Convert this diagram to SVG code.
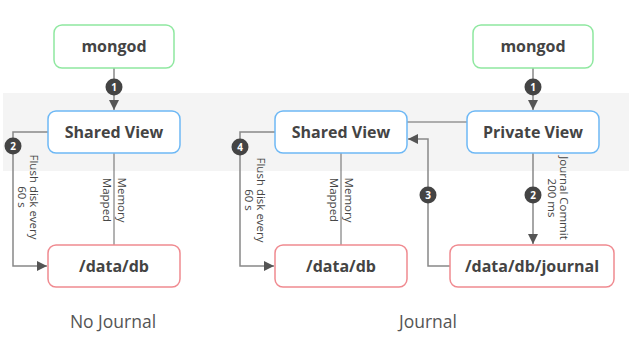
<svg xmlns="http://www.w3.org/2000/svg" width="629" height="344" viewBox="0 0 629 344">
<defs>
<style>
.box{fill:#fff;stroke-width:1.5}
.g{stroke:#8fe8a0}
.b{stroke:#6db8f5}
.r{stroke:#f08a90}
.lbl{font-family:"Open Sans","Liberation Sans",sans-serif;font-weight:bold;font-size:16px;fill:#444;text-anchor:middle}
.sm{font-family:"Open Sans","Liberation Sans",sans-serif;font-size:11.5px;fill:#444;text-anchor:middle}
.cap{font-family:"Open Sans","Liberation Sans",sans-serif;font-size:17.5px;fill:#555;text-anchor:middle}
.con{fill:none;stroke:#888;stroke-width:1.5}
.thin{fill:none;stroke:#666;stroke-width:1}
.bd circle{fill:#444}
.bd text{font-family:"Open Sans","Liberation Sans",sans-serif;font-weight:bold;font-size:10px;fill:#fff;text-anchor:middle}
</style>
<marker id="ah" viewBox="0 0 10 10" refX="10" refY="5" markerWidth="10" markerHeight="10" markerUnits="userSpaceOnUse" orient="auto">
<path d="M0,0 L10,5 L0,10 z" fill="#555"/>
</marker>
</defs>
<rect x="3" y="93" width="626" height="78" fill="#f4f4f4"/>
<g id="connectors">
<line class="con" x1="114" y1="68" x2="114" y2="110" marker-end="url(#ah)"/>
<polyline class="con" points="48,132 13,132 13,266 47,266" marker-end="url(#ah)"/>
<line class="thin" x1="114" y1="153" x2="114" y2="245"/>
<line class="con" x1="533" y1="68" x2="533" y2="110" marker-end="url(#ah)"/>
<line class="thin" x1="467" y1="122" x2="407" y2="122"/>
<polyline class="con" points="275,132 240,132 240,266 274,266" marker-end="url(#ah)"/>
<line class="thin" x1="341" y1="153" x2="341" y2="245"/>
<polyline class="con" points="450,266 428,266 428,139 408,139" marker-end="url(#ah)"/>
<line class="con" x1="533" y1="153" x2="533" y2="244" marker-end="url(#ah)"/>
<g class="bd"><circle cx="114" cy="87" r="8.5"/><text x="114" y="90.5">1</text></g>
<g class="bd"><circle cx="13" cy="146" r="8.5"/><text x="13" y="149.5">2</text></g>
<g class="bd"><circle cx="533" cy="87" r="8.5"/><text x="533" y="90.5">1</text></g>
<g class="bd"><circle cx="240" cy="147" r="8.5"/><text x="240" y="150.5">4</text></g>
<g class="bd"><circle cx="428" cy="195" r="8.5"/><text x="428" y="198.5">3</text></g>
<g class="bd"><circle cx="533" cy="195" r="8.5"/><text x="533" y="198.5">2</text></g>
<text class="sm" transform="translate(30,197) rotate(90)">Flush disk every</text>
<text class="sm" transform="translate(18,197) rotate(90)">60 s</text>
<text class="sm" transform="translate(118,200) rotate(90)">Memory</text>
<text class="sm" transform="translate(103,200) rotate(90)">Mapped</text>
<text class="sm" transform="translate(257,200) rotate(90)">Flush disk every</text>
<text class="sm" transform="translate(245,200) rotate(90)">60 s</text>
<text class="sm" transform="translate(345,200) rotate(90)">Memory</text>
<text class="sm" transform="translate(330,200) rotate(90)">Mapped</text>
<text class="sm" transform="translate(560,198) rotate(90)">Journal Commit</text>
<text class="sm" transform="translate(548,198) rotate(90)">200 ms</text>
</g>
<g id="mongod1"><rect class="box g" x="54" y="25" width="120" height="43" rx="8"/><text class="lbl" x="114" y="52">mongod</text></g>
<g id="shared1"><rect class="box b" x="48" y="111" width="132" height="42" rx="8"/><text class="lbl" x="114" y="137.5">Shared View</text></g>
<g id="db1"><rect class="box r" x="48" y="245" width="132" height="42" rx="8"/><text class="lbl" x="114" y="271.5">/data/db</text></g>
<g id="mongod2"><rect class="box g" x="473" y="25" width="120" height="43" rx="8"/><text class="lbl" x="533" y="52">mongod</text></g>
<g id="shared2"><rect class="box b" x="275" y="111" width="132" height="42" rx="8"/><text class="lbl" x="341" y="137.5">Shared View</text></g>
<g id="private"><rect class="box b" x="467" y="111" width="132" height="42" rx="8"/><text class="lbl" x="533" y="137.5">Private View</text></g>
<g id="db2"><rect class="box r" x="275" y="245" width="132" height="42" rx="8"/><text class="lbl" x="341" y="271.5">/data/db</text></g>
<g id="journal"><rect class="box r" x="450" y="245" width="164" height="42" rx="8"/><text class="lbl" x="532" y="271.5">/data/db/journal</text></g>
<text class="cap" x="113" y="328">No Journal</text>
<text class="cap" x="428" y="328">Journal</text>
</svg>
